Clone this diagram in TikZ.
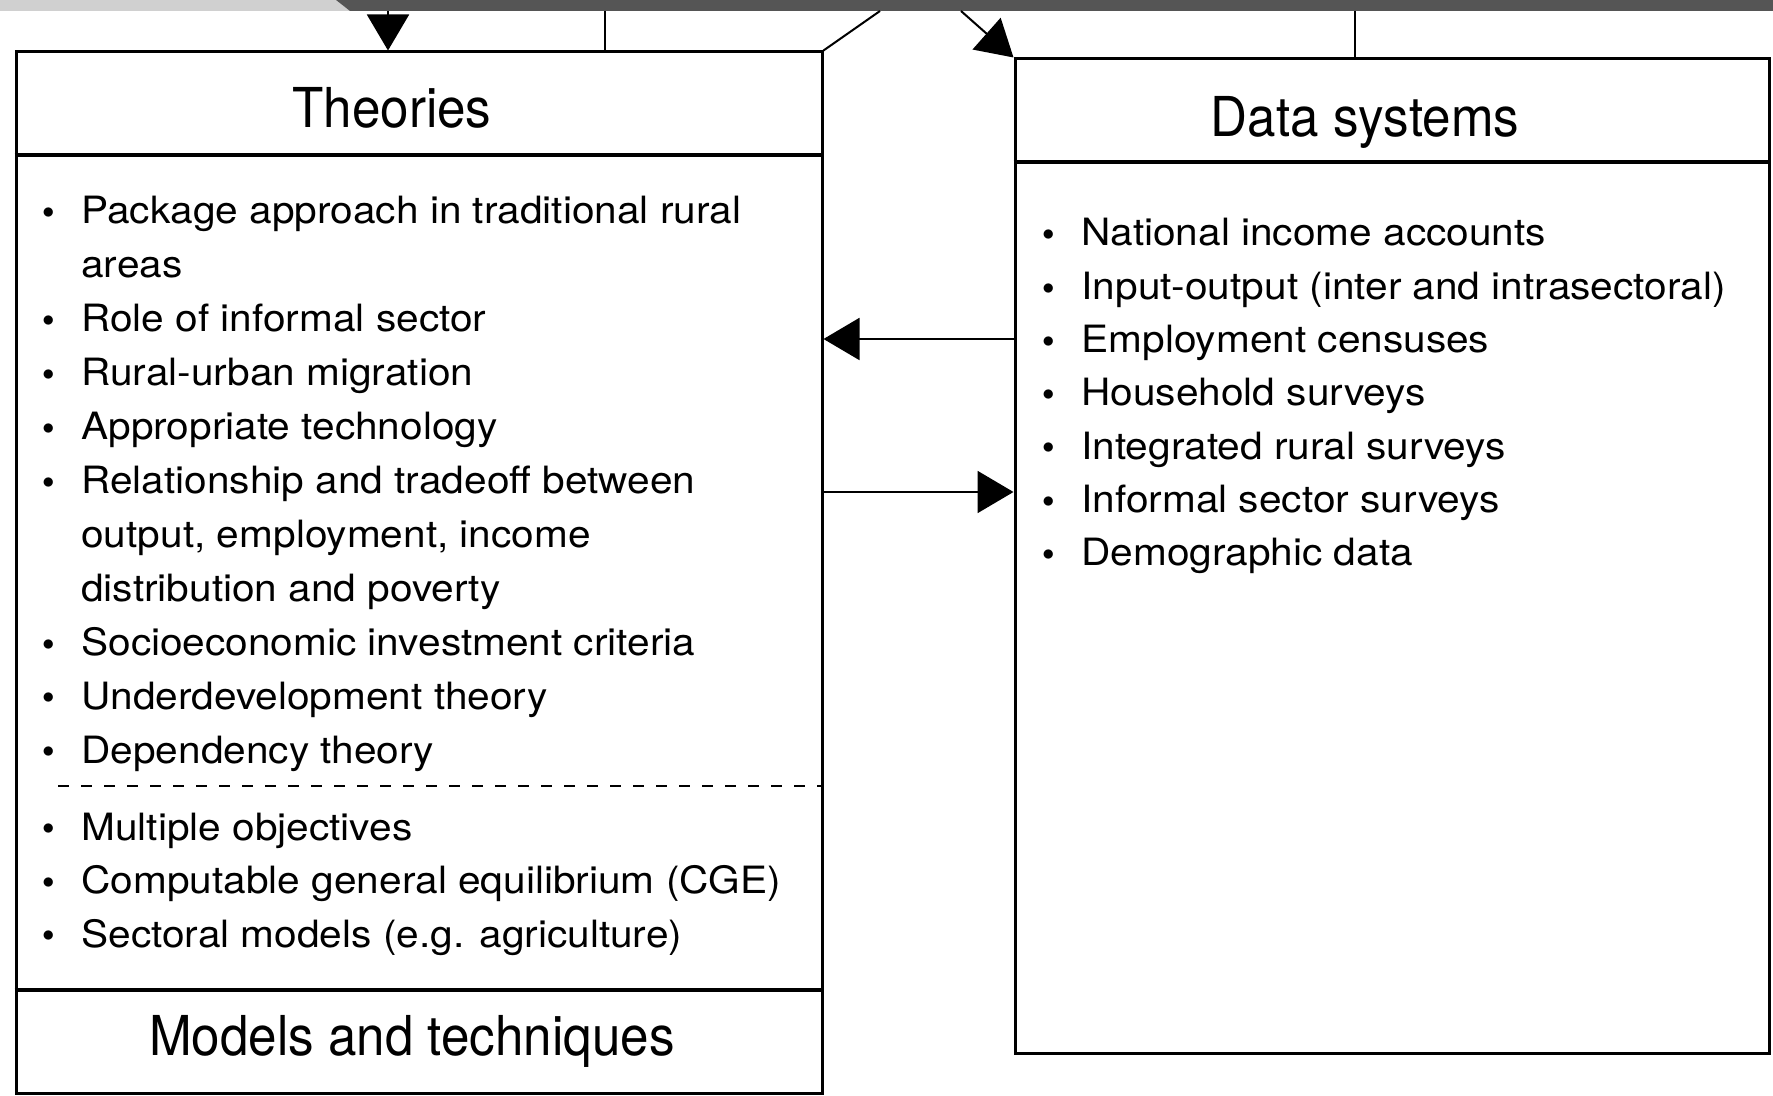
\documentclass[tikz,border=0pt]{standalone}
\usepackage{fontspec}
\setmainfont{TeX Gyre Heros}
\newfontfamily\itemfam{TeX Gyre Heros}[FakeStretch=1.08]
\newfontfamily\titlefam{TeX Gyre Heros}[FakeStretch=0.93]
\usetikzlibrary{arrows.meta,fit}
\definecolor{lightbar}{RGB}{208,208,208}
\definecolor{darkbar}{RGB}{85,85,85}
\newcommand\bulmark{\makebox[19.5pt][l]{\raisebox{2.6pt}{\fontsize{12.5pt}{12.5pt}\selectfont$\bullet$}}}
\begin{document}
\begin{tikzpicture}[x=0.5pt,y=-0.5pt,
  box/.style={draw, line width=1.5pt, inner sep=0pt},
  rule/.style={line width=1.9pt},
  ttl/.style={font=\titlefam\fontsize{27.5pt}{33pt}\selectfont, inner sep=0pt, anchor=base},
  itm/.style={font=\itemfam\fontsize{18.8pt}{22pt}\selectfont, inner sep=0pt, anchor=base west},
  conn/.style={line width=1pt},
  arr/.style={conn, -{Triangle[length=18pt,width=21pt]}}]
\useasboundingbox (0,0) rectangle (1773,1096);
% top bar
\fill[lightbar] (0,0) -- (336,0) -- (350,11) -- (0,11) -- cycle;
\fill[darkbar] (336,0) -- (1773,0) -- (1773,11) -- (350,11) -- cycle;
% boxes
\node[box, fit={(16,52) (822,1093)}] (theo) {};
\node[box, fit={(1015,59) (1769,1053)}] (data) {};
% separators
\coordinate (ysepT) at (0,155);
\coordinate (ysepD) at (0,162);
\coordinate (ysepM) at (0,990);
\coordinate (dashL) at (58,786);
\draw[rule] (theo.west |- ysepT) -- (theo.east |- ysepT);
\draw[rule] (data.west |- ysepD) -- (data.east |- ysepD);
\draw[rule] (theo.west |- ysepM) -- (theo.east |- ysepM);
\draw[line width=1.2pt, dash pattern=on 5.5pt off 6pt] (dashL) -- (theo.east |- dashL);
% titles
\node[ttl] (ttheo) at (392,128) {Theories};
\node[ttl] (tdata) at (1365,137) {Data systems};
\node[ttl] (tmod) at (412,1055) {Models and techniques};
% theories items
\node[itm] (t0) at (42,224) {\bulmark Package approach in traditional rural};
\node[itm] (t1) at (81,277.9) {areas};
\node[itm] (t2) at (42,331.8) {\bulmark Role of informal sector};
\node[itm] (t3) at (42,385.7) {\bulmark Rural-urban migration};
\node[itm] (t4) at (42,439.6) {\bulmark Appropriate technology};
\node[itm] (t5) at (42,493.5) {\bulmark Relationship and tradeoff between};
\node[itm] (t6) at (81,547.4) {output, employment, income};
\node[itm] (t7) at (81,601.3) {distribution and poverty};
\node[itm] (t8) at (42,655.2) {\bulmark Socioeconomic investment criteria};
\node[itm] (t9) at (42,709.1) {\bulmark Underdevelopment theory};
\node[itm] (t10) at (42,763) {\bulmark Dependency theory};
% models items
\node[itm] (m0) at (42,840) {\bulmark Multiple objectives};
\node[itm] (m1) at (42,893.5) {\bulmark Computable general equilibrium (CGE)};
\node[itm] (m2) at (42,947) {\bulmark Sectoral models (e.g. agriculture)};
% data items
\node[itm] (d0) at (1042,246) {\bulmark National income accounts};
\node[itm] (d1) at (1042,299.3) {\bulmark Input-output (inter and intrasectoral)};
\node[itm] (d2) at (1042,352.6) {\bulmark Employment censuses};
\node[itm] (d3) at (1042,405.9) {\bulmark Household surveys};
\node[itm] (d4) at (1042,459.2) {\bulmark Integrated rural surveys};
\node[itm] (d5) at (1042,512.5) {\bulmark Informal sector surveys};
\node[itm] (d6) at (1042,565.8) {\bulmark Demographic data};
% connectors at top
\coordinate (a1) at (388,11);
\coordinate (l1) at (605,11);
\coordinate (s1) at (880,11);
\coordinate (a2) at (961,11);
\coordinate (l2) at (1355,11);
\draw[arr] (a1) -- (a1 |- theo.north);
\draw[conn] (l1) -- (l1 |- theo.north);
\draw[conn] (theo.north east) -- (s1);
\draw[arr] (a2) -- (data.north west);
\draw[conn] (l2) -- (l2 |- data.north);
% horizontal arrows
\coordinate (h1) at (0,339);
\coordinate (h2) at (0,492);
\draw[arr] (data.west |- h1) -- (theo.east |- h1);
\draw[arr] (theo.east |- h2) -- (data.west |- h2);
\end{tikzpicture}
\end{document}
